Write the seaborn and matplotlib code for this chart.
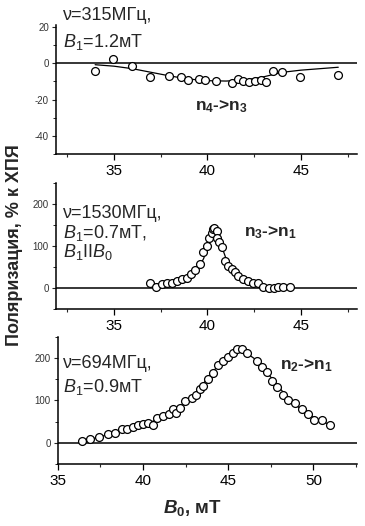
import matplotlib
matplotlib.use('Agg')
import matplotlib.pyplot as plt
import seaborn as sns
from matplotlib.ticker import MultipleLocator

# n4->n3, 315 MHz
b_43 = [33.98, 34.96, 35.98, 36.96, 37.96, 38.57, 38.94, 39.57, 39.87, 40.46, 41.34,
        41.66, 41.93, 42.25, 42.55, 42.86, 43.12, 43.53, 43.98, 44.96, 46.96]
p_43 = [-4.5, 2.1, -1.3, -7.3, -6.9, -7.3, -9.3, -8.4, -9.1, -10.0, -11.0,
        -8.9, -9.7, -10.2, -10.0, -9.1, -10.2, -4.1, -5.0, -7.8, -6.3]
fit_b_43 = [34.0, 35.0, 36.0, 37.0, 38.0, 39.0, 40.0, 41.0, 42.0, 43.0, 44.0, 45.0, 47.0]
fit_p_43 = [-0.8, -1.6, -3.0, -5.0, -7.0, -8.7, -9.6, -9.8, -9.3, -7.5, -5.0, -3.8, -2.2]

# n3->n1, 1530 MHz
b_31 = [36.96, 37.25, 37.55, 37.82, 38.09, 38.36, 38.62, 38.9, 39.1, 39.33, 39.6, 39.75,
        39.96, 40.1, 40.23, 40.32, 40.36, 40.49, 40.53, 40.64, 40.76, 40.95, 41.12, 41.3,
        41.48, 41.66, 41.93, 42.2, 42.46, 42.73, 43.0, 43.27, 43.54, 43.8, 44.07, 44.4]
p_31 = [13, 3, 9.5, 11, 11, 17, 21, 25, 33, 43, 57, 85,
        100, 120, 132, 140, 143, 136, 120, 109, 98, 65, 53, 45,
        37, 29, 21, 17, 13, 11, 3, 0, 0, 1.5, 3, 3]
fit_b_31 = [37.0, 38.0, 38.5, 39.0, 39.5, 39.8, 40.0, 40.2, 40.35, 40.45, 40.6, 40.8,
            41.0, 41.5, 42.0, 42.5, 43.0, 43.5, 44.4]
fit_p_31 = [8, 12, 18, 26, 45, 70, 95, 120, 133, 137, 122, 95,
            70, 38, 22, 12, 6, 3, 3]

# n2->n1, 694 MHz
b_21 = [36.43, 36.9, 37.45, 37.94, 38.38, 38.77, 39.09, 39.4, 39.7, 40.0, 40.3, 40.6,
        40.8, 41.2, 41.5, 41.76, 41.96, 42.16, 42.45, 42.85, 43.14, 43.33, 43.53, 43.82,
        44.12, 44.41, 44.7, 45.0, 45.3, 45.5, 45.79, 46.08, 46.67, 46.96, 47.26, 47.59,
        47.88, 48.24, 48.53, 48.92, 49.3, 49.7, 50.04, 50.5, 50.98]
p_21 = [4, 10, 13, 20, 24, 33, 31.5, 38, 43, 45, 46, 43,
        58, 63, 67, 79, 71, 83, 98.5, 106, 114, 126, 134, 150,
        165, 185, 193, 203, 213, 221, 221, 213, 193, 179, 168, 146,
        132, 113, 100, 95, 79, 67, 53, 55, 43]
fit_b_21 = [36.4, 37.0, 38.0, 39.0, 40.0, 41.0, 42.0, 42.5, 43.0, 43.5, 44.0, 44.5,
            45.0, 45.6, 46.0, 46.5, 47.0, 47.5, 48.0, 48.5, 49.0, 49.5, 50.0, 50.5, 51.0]
fit_p_21 = [3, 9, 20, 31, 43, 57, 80, 95, 115, 138, 163, 187,
            205, 217, 214, 200, 180, 155, 130, 107, 88, 73, 60, 50, 43]

sns.set_theme(style='ticks')
plt.rcParams['font.family'] = ['Liberation Sans', 'DejaVu Sans']
plt.rcParams['axes.unicode_minus'] = False
plt.rcParams['mathtext.fontset'] = 'custom'
plt.rcParams['mathtext.rm'] = 'Liberation Sans'
plt.rcParams['mathtext.it'] = 'Liberation Sans:italic'
plt.rcParams['mathtext.bf'] = 'Liberation Sans:bold'
plt.rcParams['mathtext.sf'] = 'Liberation Sans:bold:italic'

fig = plt.figure(figsize=(3.65, 5.26), dpi=100)
left, width = 0.153, 0.825
ax1 = fig.add_axes([left, 0.7072, width, 0.245])
ax2 = fig.add_axes([left, 0.4125, width, 0.2395])
ax3 = fig.add_axes([left + 0.005, 0.1179, width - 0.005, 0.2414])

panels = [
    (ax1, b_43, p_43, fit_b_43, fit_p_43),
    (ax2, b_31, p_31, fit_b_31, fit_p_31),
    (ax3, b_21, p_21, fit_b_21, fit_p_21),
]
for ax, bx, py, fx, fy in panels:
    ax.axhline(0, color='black', lw=1.1, zorder=1)
    sns.lineplot(x=fx, y=fy, ax=ax, color='black', lw=0.9, sort=False, zorder=2)
    sns.scatterplot(x=bx, y=py, ax=ax, marker='o', s=32, facecolor='white',
                    edgecolor='black', linewidth=0.9, zorder=3)
    sns.despine(ax=ax)
    for s in ['left', 'bottom']:
        ax.spines[s].set_linewidth(1.1)
        ax.spines[s].set_color('black')
    ax.tick_params(axis='x', which='major', direction='out', length=4, width=0.9,
                   labelsize=11, pad=3, colors='black')
    ax.tick_params(axis='x', which='minor', direction='out', length=2.5, width=0.8)
    ax.tick_params(axis='y', which='major', direction='out', length=3, width=0.8,
                   labelsize=7, pad=2, labelcolor='#333333')
    ax.tick_params(axis='y', which='minor', direction='out', length=2, width=0.7)
    ax.xaxis.set_major_locator(MultipleLocator(5))
    ax.xaxis.set_minor_locator(MultipleLocator(2.5))
    ax.set_xlabel('')
    ax.set_ylabel('')

ax1.set_xlim(31.9, 48.0)
ax1.set_ylim(-50, 21)
ax1.yaxis.set_major_locator(MultipleLocator(20))
ax1.yaxis.set_minor_locator(MultipleLocator(10))

ax2.set_xlim(31.9, 48.0)
ax2.set_ylim(-50, 250)
ax2.yaxis.set_major_locator(MultipleLocator(100))
ax2.yaxis.set_minor_locator(MultipleLocator(50))

ax3.set_xlim(35, 52.55)
ax3.set_ylim(-50, 250)
ax3.yaxis.set_major_locator(MultipleLocator(100))
ax3.yaxis.set_minor_locator(MultipleLocator(50))


def label(x, y, s, **kw):
    fig.text(x / 365, 1 - y / 526, s, va='center', **kw)


# panel annotations (pixel positions in the figure)
label(63, 15, 'ν=315МГц,', fontsize=13)
label(63, 42, r'$B_1$=1.2мТ', fontsize=13)
label(195, 106, r'n$_\mathbf{4}$->n$_\mathbf{3}$', fontsize=12.5, fontweight='bold')

label(63, 214, 'ν=1530МГц,', fontsize=13)
label(63, 233, r'$B_1$=0.7мТ,', fontsize=13)
label(63, 252, r'$B_1$II$B_0$', fontsize=13)
label(244, 232, r'n$_\mathbf{3}$->n$_\mathbf{1}$', fontsize=12.5, fontweight='bold')

label(63, 363, 'ν=694МГц,', fontsize=13)
label(63, 387, r'$B_1$=0.9мТ', fontsize=13)
label(280, 365, r'n$_\mathbf{2}$->n$_\mathbf{1}$', fontsize=12.5, fontweight='bold')

fig.text(15 / 365, 1 - 245 / 526, 'Поляризация, % к ХПЯ', rotation=90,
         ha='center', va='center', fontsize=13, fontweight='bold')
fig.text(193 / 365, 1 - 508 / 526, r'$\mathsf{B}_\mathbf{0}$, мТ',
         ha='center', va='center', fontsize=13.5, fontweight='bold')

fig.savefig('out.png', dpi=100)
